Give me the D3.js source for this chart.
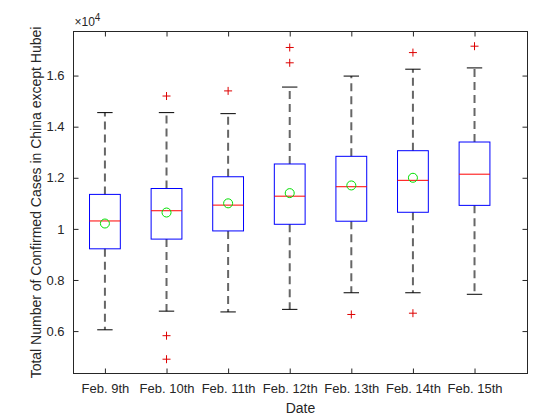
<!DOCTYPE html>
<html><head><meta charset="utf-8">
<script src="https://cdn.jsdelivr.net/npm/d3@7"></script>
<style>body{margin:0;background:#fff}text{font-family:"Liberation Sans",Arial,sans-serif}</style>
</head><body><svg id="chart" width="560" height="420"></svg>
<script>
var dates = ['Feb. 9th','Feb. 10th','Feb. 11th','Feb. 12th','Feb. 13th','Feb. 14th','Feb. 15th'];
var whiskerHigh = [1.455,1.455,1.451,1.555,1.598,1.625,1.63];
var q3 = [1.135,1.158,1.204,1.254,1.284,1.306,1.34];
var median = [1.031,1.071,1.093,1.128,1.165,1.19,1.214];
var mean = [1.021,1.064,1.10,1.14,1.17,1.20,null];
var q1 = [0.922,0.96,0.992,1.018,1.03,1.065,1.092];
var whiskerLow = [0.605,0.678,0.675,0.685,0.75,0.75,0.744];
var outliers = [[],[1.52,0.582,0.49],[1.54],[1.71,1.65],[0.665],[1.69,0.67],[1.715]];
var yTicks = [0.6,0.8,1,1.2,1.4,1.6];

var svg = d3.select('#chart');
var L = 73.5, R = 527.5, T = 31.5, B = 373.5;
var x = d3.scaleLinear().domain([0.49,7.86]).range([L,R]);
var y = d3.scaleLinear().domain([0.434,1.7725]).range([B,T]);
var bw = x(1.5) - x(1);

svg.append('rect').attr('x',L).attr('y',T).attr('width',R-L).attr('height',B-T)
  .attr('fill','#fff').attr('stroke','#262626');

svg.append('g').attr('transform','translate('+L+',0)')
  .call(d3.axisLeft(y).tickValues(yTicks).tickSize(-5).tickPadding(9).tickFormat(d3.format('')));
svg.append('g').attr('transform','translate(0,'+B+')')
  .call(d3.axisBottom(x).tickValues(d3.range(1,8)).tickSize(-5).tickPadding(10).tickFormat(function(d){return dates[d-1];}));
svg.append('g').attr('transform','translate('+R+',0)').call(d3.axisRight(y).tickValues(yTicks).tickSize(-5).tickFormat(''));
svg.append('g').attr('transform','translate(0,'+T+')').call(d3.axisTop(x).tickValues(d3.range(1,8)).tickSize(-5).tickFormat(''));
svg.selectAll('.domain').remove();
svg.selectAll('.tick line').attr('stroke','#262626');
svg.selectAll('.tick text').attr('fill','#262626').attr('font-size',13);

svg.append('text').attr('x',L+1).attr('y',T-6).attr('font-size',12).attr('fill','#262626')
  .html('×10<tspan dy="-5" font-size="10">4</tspan>');
svg.append('text').attr('x',(L+R)/2).attr('y',413).attr('text-anchor','middle').attr('font-size',14).attr('fill','#262626').text('Date');
svg.append('text').attr('transform','translate(41,'+(T+B)/2+') rotate(-90)').attr('text-anchor','middle')
  .attr('font-size',14).attr('fill','#262626').text('Total Number of Confirmed Cases in China except Hubei');

dates.forEach(function(d,i){
  var cx = x(i+1), g = svg.append('g');
  g.append('line').attr('x1',cx).attr('x2',cx).attr('y1',y(q3[i])).attr('y2',y(whiskerHigh[i]))
    .attr('stroke','#666').attr('stroke-width',2).attr('stroke-dasharray','8,5');
  g.append('line').attr('x1',cx).attr('x2',cx).attr('y1',y(q1[i])).attr('y2',y(whiskerLow[i]))
    .attr('stroke','#666').attr('stroke-width',2).attr('stroke-dasharray','8,5');
  [whiskerHigh[i],whiskerLow[i]].forEach(function(v){
    g.append('line').attr('x1',cx-bw/4).attr('x2',cx+bw/4).attr('y1',y(v)).attr('y2',y(v)).attr('stroke','#000');
  });
  g.append('rect').attr('x',cx-bw/2).attr('width',bw).attr('y',y(q3[i])).attr('height',y(q1[i])-y(q3[i]))
    .attr('fill','none').attr('stroke','#0000ff');
  g.append('line').attr('x1',cx-bw/2).attr('x2',cx+bw/2).attr('y1',y(median[i])).attr('y2',y(median[i])).attr('stroke','#ff0000');
  if (mean[i] != null) g.append('circle').attr('cx',cx).attr('cy',y(mean[i])).attr('r',4.5)
    .attr('fill','none').attr('stroke','#00e000');
  outliers[i].forEach(function(v){
    g.append('path').attr('d','M'+(cx-4)+','+y(v)+'h8M'+cx+','+(y(v)-4)+'v8').attr('stroke','#dd0000');
  });
});
</script></body></html>
